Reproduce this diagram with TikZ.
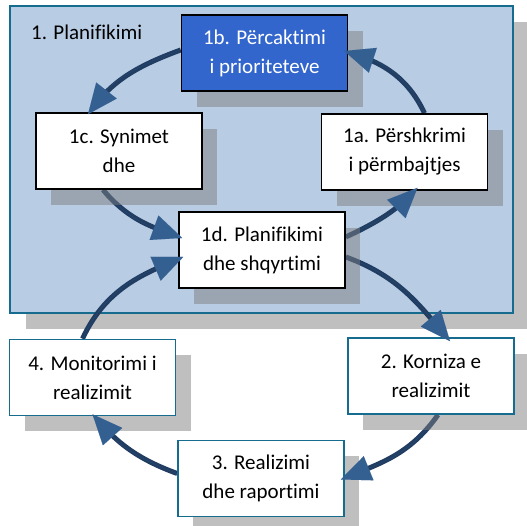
\documentclass[tikz,border=0pt]{standalone}
\usepackage{fontspec}
\setmainfont{Carlito}[Ligatures=CommonOff]
\usetikzlibrary{arrows.meta,shadows}

\definecolor{panelfill}{HTML}{B8CCE4}
\definecolor{tealline}{HTML}{166C8E}
\definecolor{royal}{HTML}{3366CC}
\definecolor{arcline}{HTML}{213D62}
\definecolor{archead}{HTML}{345F91}

\pgfdeclarelayer{panel}
\pgfdeclarelayer{arcs}
\pgfdeclarelayer{heads}
\pgfsetlayers{panel,arcs,main,heads}

\tikzset{
  boxshadow/.style={drop shadow={shadow xshift=15pt, shadow yshift=-16pt, fill=black!50, opacity=0.5}},
  stage/.style={draw=black, fill=white, line width=1.6pt, minimum width=166pt,
    minimum height=76pt, inner sep=0pt, align=center, boxshadow,
    font=\fontsize{21pt}{29pt}\selectfont},
  outerstage/.style={stage, draw=tealline},
  keystage/.style={stage, fill=royal, text=white},
  panelbox/.style={draw=tealline, fill=panelfill, line width=1.6pt,
    minimum width=503pt, minimum height=307pt, inner sep=0pt,
    drop shadow={shadow xshift=16pt, shadow yshift=-16pt, fill=black!50, opacity=0.5}},
  % thick curve, kept under the box shadows
  flowline/.style={draw=arcline, line width=5pt, shorten >=14pt},
  % arrow head, drawn above everything
  flowhead/.style={draw=archead, line width=0.01pt, -{Triangle[length=30pt,width=26pt]}}
}

% the two cycles of curved arrows, drawn once as lines and once as heads
\newcommand{\cyclearcs}[1]{%
  % planning cycle
  \path[#1] ([yshift=13pt]d.east) to[out=25,in=225] ([xshift=13pt,yshift=3pt]a.south);
  \path[#1] ([xshift=20pt]a.north) to[out=115,in=-18] ([xshift=-4pt,yshift=2pt]b.east);
  \path[#1] ([yshift=3pt]b.west) to[out=200,in=52] ([xshift=-31pt,yshift=-2pt]c.north);
  \path[#1] ([xshift=-16pt]c.south) to[out=-50,in=160] ([xshift=4pt,yshift=12pt]d.west);
  % implementation cycle
  \path[#1] ([yshift=-7pt]d.east) to[out=-20,in=130] ([xshift=19pt,yshift=-4pt]r.north);
  \path[#1] ([xshift=7pt]r.south) to[out=235,in=22] ([xshift=-4pt,yshift=-1pt]p.east);
  \path[#1] ([yshift=5pt]p.west) to[out=160,in=-48] ([yshift=2pt]m.south);
  \path[#1] ([xshift=-10pt]m.north) to[out=65,in=203] ([xshift=5pt,yshift=-7pt]d.west);
}

\begin{document}
\begin{tikzpicture}[x=1pt,y=1pt]
  \useasboundingbox (0,0) rectangle (527,526);

  \begin{pgfonlayer}{panel}
    \node[panelbox] (panel) at (261.5,366.5) {};
  \end{pgfonlayer}
  \node[anchor=west, inner sep=0pt, font=\fontsize{21pt}{29pt}\selectfont] (plan) at (31,494) {1. Planifikimi};

  \node[keystage] (b) at (264.5,473) {1b. Përcaktimi\\i prioriteteve};
  \node[stage] (c) at (119,375) {1c. Synimet\\dhe};
  \node[stage] (a) at (404.5,374) {1a. Përshkrimi\\i përmbajtjes};
  \node[stage] (d) at (262,276) {1d. Planifikimi\\dhe shqyrtimi};

  \node[outerstage] (r) at (431,150) {2. Korniza e\\realizimit};
  \node[outerstage] (p) at (261,47.5) {3. Realizimi\\dhe raportimi};
  \node[outerstage] (m) at (92.5,148.5) {4. Monitorimi i\\realizimit};

  \begin{pgfonlayer}{arcs}
    \cyclearcs{flowline}
  \end{pgfonlayer}
  \begin{pgfonlayer}{heads}
    \cyclearcs{flowhead}
  \end{pgfonlayer}
\end{tikzpicture}
\end{document}
